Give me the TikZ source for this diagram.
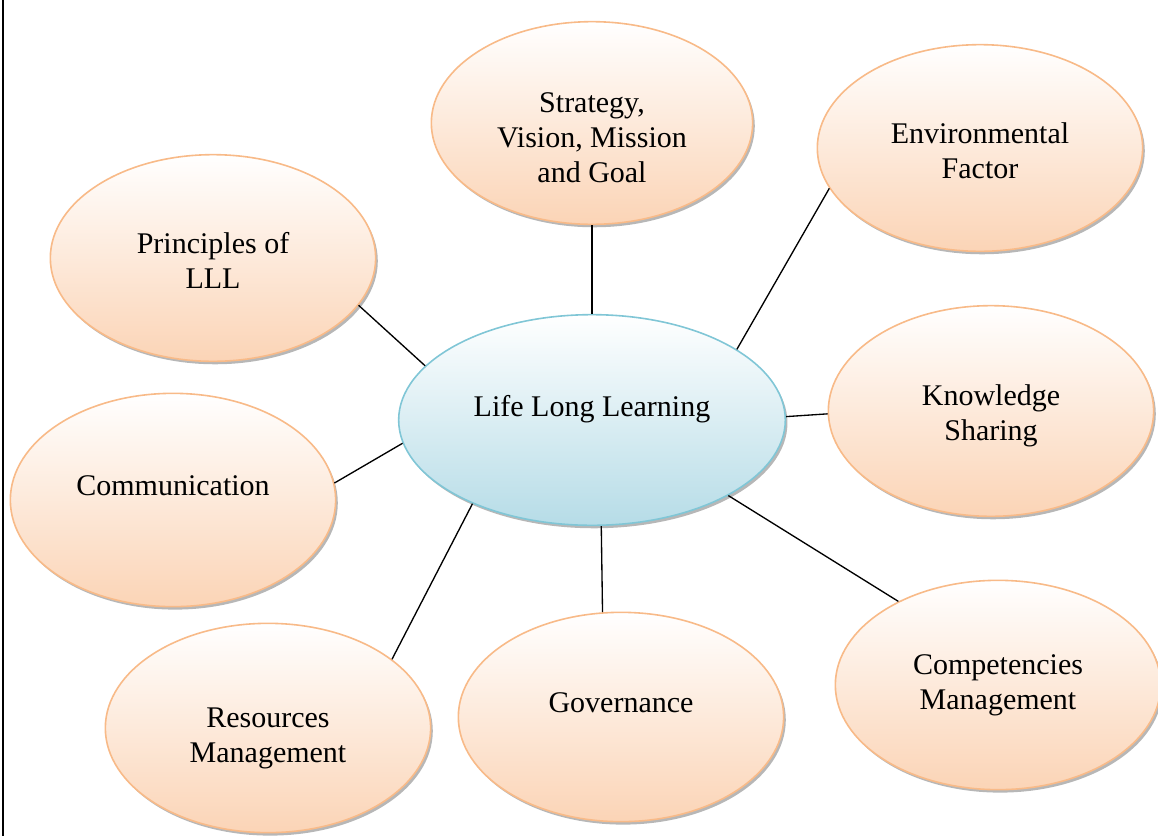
\documentclass[tikz,border=0pt]{standalone}
\usepackage{fontspec}
\setmainfont{Liberation Serif}
\usetikzlibrary{shapes.geometric,shadows}
\definecolor{peachline}{RGB}{248,186,136}
\definecolor{peachbot}{RGB}{251,212,182}
\definecolor{blueline}{RGB}{128,198,214}
\definecolor{bluebot}{RGB}{182,220,231}

\begin{document}
\begin{tikzpicture}[
x=0.75pt,y=-0.75pt,
bubble/.style={
  ellipse,
  draw=peachline,
  line width=1.2pt,
  top color=white,
  bottom color=peachbot,
  minimum width=244pt,
  minimum height=155pt,
  inner sep=0pt,
  align=center,
  font=\fontsize{22.5}{26.5}\selectfont,
  drop shadow={shadow xshift=1.6pt,shadow yshift=-2.2pt,fill=black!40,opacity=.7}
  },
hub/.style={
  bubble,
  draw=blueline,
  bottom color=bluebot,
  minimum width=290pt,
  minimum height=158pt
  },
upper/.style={text depth=21pt},
sink/.style={text height=#1},
link/.style={draw=black,line width=1pt}
]
\useasboundingbox (0,0) rectangle (1158,836);
\draw[line width=1.5pt] (3,0) -- (3,836);
% outer bubbles
\node[bubble,sink=90pt,minimum width=241pt,minimum height=152pt] (strat) at (592,123) {Strategy,\\Vision, Mission\\and Goal};
\node[bubble,sink=46pt] (env) at (980,148) {Environmental\\Factor};
\node[bubble,sink=46pt] (princ) at (213,258) {Principles of\\LLL};
\node[bubble,sink=49pt,minimum height=158pt] (know) at (991,411) {Knowledge\\Sharing};
\node[bubble,upper,minimum height=160pt] (comm) at (173,500) {Communication};
\node[bubble,minimum height=157pt] (comp) at (998,685) {Competencies\\Management};
\node[bubble,upper,minimum height=157pt] (gov) at (621,717) {Governance};
\node[bubble,sink=57pt,minimum height=157pt] (res) at (268,728) {Resources\\Management};
% hub
\node[hub,upper] (lll) at (592,420) {Life Long Learning};
% spokes
\draw[link] (strat.south) -- (lll.north);
\draw[link] (env.195) -- (lll.26);
\draw[link] (princ.342) -- (lll.162);
\draw[link] (know.181) -- (lll.1);
\draw[link] (comm.6) -- (lll.187);
\draw[link] (comp.140) -- (lll.331);
\draw[link] (gov.100) -- (lll.275);
\draw[link] (res.29) -- (lll.215);
\end{tikzpicture}
\end{document}
